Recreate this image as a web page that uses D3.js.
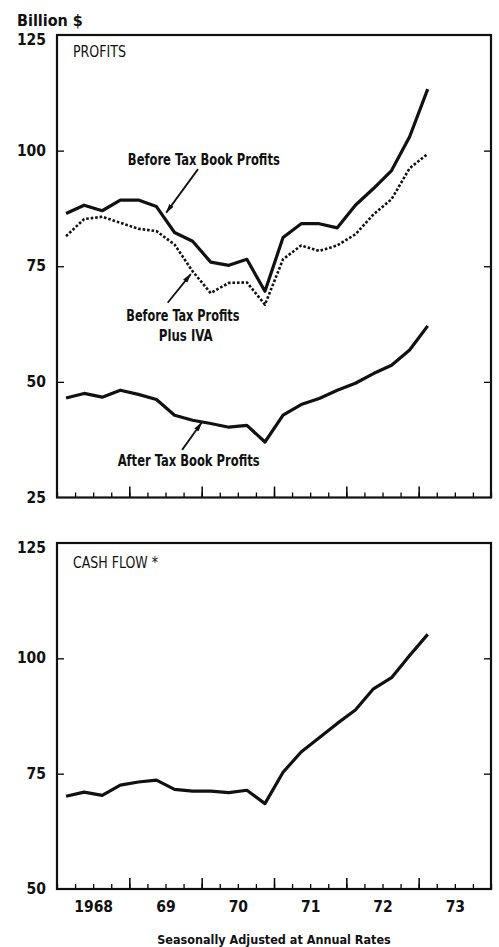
<!DOCTYPE html>
<html>
<head>
<meta charset="utf-8">
<script src="https://d3js.org/d3.v7.min.js"></script>
<style>
  body { margin: 0; background: white; }
  svg { display: block; }
</style>
</head>
<body>
<svg id="chart" width="499" height="947"></svg>
<script>
// quarterly, 1968 Q1 .. 1973 Q1 (billion $, seasonally adjusted annual rates)
var quarters = ["1968Q1","1968Q2","1968Q3","1968Q4","1969Q1","1969Q2","1969Q3","1969Q4",
                "1970Q1","1970Q2","1970Q3","1970Q4","1971Q1","1971Q2","1971Q3","1971Q4",
                "1972Q1","1972Q2","1972Q3","1972Q4","1973Q1"];
var beforeTaxBook = [86.4, 88.2, 87.0, 89.3, 89.3, 87.9, 82.3, 80.4, 75.9, 75.2, 76.5, 69.6,
                     81.2, 84.2, 84.2, 83.3, 88.2, 91.8, 95.7, 103.0, 113.3];
var beforeTaxIVA = [81.5, 85.2, 85.7, 84.4, 83.1, 82.6, 79.7, 73.9, 69.2, 71.4, 71.5, 66.7,
                    76.5, 79.5, 78.3, 79.5, 81.9, 86.2, 89.5, 96.2, 99.3];
var afterTaxBook = [46.5, 47.5, 46.7, 48.2, 47.3, 46.2, 42.8, 41.7, 41.0, 40.2, 40.6, 37.0,
                    42.8, 45.1, 46.4, 48.2, 49.7, 51.8, 53.6, 56.9, 62.1];
var cashFlow = [70.1, 71.0, 70.3, 72.5, 73.2, 73.6, 71.6, 71.2, 71.2, 70.9, 71.4, 68.5,
                75.3, 79.7, 82.8, 85.9, 88.8, 93.4, 95.8, 100.6, 105.2];

var yearLabels = ["1968", "69", "70", "71", "72", "73"];
var profitTicks = [25, 50, 75, 100, 125];
var cashTicks = [50, 75, 100, 125];

var svg = d3.select("#chart");
var numFont = "'DejaVu Sans Condensed', 'DejaVu Sans', sans-serif";
var narrowFont = "'Liberation Sans Narrow', 'DejaVu Sans Condensed', 'DejaVu Sans', sans-serif";

var x = d3.scaleLinear().domain([1968, 1974]).range([57, 491]);
function qx(q) { return +q.slice(0, 4) + (+q.slice(5) - 0.5) / 4; }

var yTop = d3.scaleLinear().domain([25, 125]).range([497.5, 35]);
var yBot = d3.scaleLinear().domain([50, 125]).range([889, 543]);

var quarterEdges = d3.range(1968, 1974.01, 0.25);
var yearEdges = d3.range(1969, 1974, 1);

function panel(y, ticks, showYears) {
  var g = svg.append("g");
  var x0 = x.range()[0], x1 = x.range()[1];
  var ya = y.range()[1], yb = y.range()[0];

  // minor (quarter) and major (year) ticks pointing up from the bottom
  g.append("g").attr("transform", "translate(0," + yb + ")")
    .call(d3.axisBottom(x).tickValues(quarterEdges).tickSize(-5).tickFormat(""))
    .call(function(a){ a.select(".domain").remove(); a.selectAll("line").attr("stroke-width", 1.3); });
  g.append("g").attr("transform", "translate(0," + yb + ")")
    .call(d3.axisBottom(x).tickValues(yearEdges).tickSize(-11).tickFormat(""))
    .call(function(a){ a.select(".domain").remove(); a.selectAll("line").attr("stroke-width", 1.5); });

  // left axis with labels, right axis ticks only
  g.append("g").attr("transform", "translate(" + x0 + ",0)")
    .call(d3.axisLeft(y).tickValues(ticks).tickSize(-7).tickPadding(11).tickFormat(d3.format("d")))
    .call(function(a){
      a.select(".domain").remove();
      a.selectAll("line").attr("stroke-width", 1.3)
        .filter(function(d){ return d == y.domain()[0] || d == y.domain()[1]; }).remove();
      a.selectAll("text").style("font-family", numFont).style("font-size", "15.5px")
        .style("font-weight", "bold").attr("fill", "#111")
        .attr("dy", function(d){ return d == y.domain()[1] ? "0.62em" : "0.3em"; });
    });
  g.append("g").attr("transform", "translate(" + x1 + ",0)")
    .call(d3.axisRight(y).tickValues(ticks.slice(1, -1)).tickSize(-7).tickFormat(""))
    .call(function(a){ a.select(".domain").remove(); a.selectAll("line").attr("stroke-width", 1.3); });

  g.append("rect")
    .attr("x", x0).attr("y", ya)
    .attr("width", x1 - x0).attr("height", yb - ya)
    .style("fill", "none").style("stroke", "#111").style("stroke-width", 2.2);

  if (showYears) {
    g.append("g").attr("transform", "translate(0," + yb + ")")
      .call(d3.axisBottom(x).tickValues(d3.range(1968.5, 1974, 1)).tickSize(0).tickPadding(12)
        .tickFormat(function(d, i){ return yearLabels[i]; }))
      .call(function(a){
        a.select(".domain").remove();
        a.selectAll("text").style("font-family", numFont).style("font-size", "15.5px")
          .style("font-weight", "bold").attr("fill", "#111");
      });
  }
  return g;
}

function drawLine(g, y, values, width, dash) {
  var line = d3.line()
    .x(function(d, i){ return x(qx(quarters[i])); })
    .y(function(d){ return y(d); });
  g.append("path").datum(values)
    .attr("d", line)
    .style("fill", "none").style("stroke", "#111")
    .style("stroke-width", width)
    .style("stroke-linejoin", "round")
    .style("stroke-dasharray", dash || null);
}

svg.append("defs").append("marker")
  .attr("id", "head").attr("viewBox", "0 0 10 6")
  .attr("refX", 9).attr("refY", 3)
  .attr("markerWidth", 10).attr("markerHeight", 6)
  .attr("markerUnits", "userSpaceOnUse")
  .attr("orient", "auto")
  .append("path").attr("d", "M0,0.4 L10,3 L0,5.6 Z").style("fill", "#111");

function label(g, y, txt, xv, yv, len, weight) {
  g.append("text")
    .attr("x", x(xv)).attr("y", y(yv))
    .attr("text-anchor", "middle")
    .attr("textLength", len).attr("lengthAdjust", "spacingAndGlyphs")
    .style("font-family", narrowFont).style("font-size", "15px")
    .style("font-weight", weight || "bold").style("fill", "#111")
    .text(txt);
}
function arrow(g, y, fx, fy, tx, ty) {
  g.append("line")
    .attr("x1", x(fx)).attr("y1", y(fy)).attr("x2", x(tx)).attr("y2", y(ty))
    .style("stroke", "#111").style("stroke-width", 1.8)
    .attr("marker-end", "url(#head)");
}

// ---- PROFITS ----
var profitsG = panel(yTop, profitTicks, false);
drawLine(profitsG, yTop, beforeTaxIVA, 2.6, "2.6,1.9");
drawLine(profitsG, yTop, beforeTaxBook, 3.2);
drawLine(profitsG, yTop, afterTaxBook, 3.2);

profitsG.append("text").attr("x", 73).attr("y", 57)
  .attr("textLength", 53).attr("lengthAdjust", "spacingAndGlyphs")
  .style("font-family", narrowFont).style("font-size", "15px").style("fill", "#111")
  .text("PROFITS");

label(profitsG, yTop, "Before Tax Book Profits", 1970.03, 96.9, 152);
arrow(profitsG, yTop, 1969.95, 96.0, 1969.51, 86.6);
label(profitsG, yTop, "Before Tax Profits", 1969.74, 63.2, 113);
label(profitsG, yTop, "Plus IVA", 1969.78, 58.8, 54);
arrow(profitsG, yTop, 1969.53, 67.1, 1969.85, 73.3);
label(profitsG, yTop, "After Tax Book Profits", 1969.82, 31.8, 142);
arrow(profitsG, yTop, 1969.73, 35.3, 1970.0, 41.2);

// ---- CASH FLOW ----
var cashG = panel(yBot, cashTicks, true);
drawLine(cashG, yBot, cashFlow, 3.2);

cashG.append("text").attr("x", 73).attr("y", 568)
  .attr("textLength", 85).attr("lengthAdjust", "spacingAndGlyphs")
  .style("font-family", narrowFont).style("font-size", "15px").style("fill", "#111")
  .text("CASH FLOW *");

svg.append("text").attr("x", 17).attr("y", 26)
  .style("font-family", numFont).style("font-size", "16px").style("font-weight", "bold")
  .style("fill", "#111").text("Billion $");

svg.append("text").attr("x", x(1971)).attr("y", 944)
  .attr("text-anchor", "middle")
  .style("font-family", numFont).style("font-size", "12.5px").style("font-weight", "bold")
  .style("fill", "#111").text("Seasonally Adjusted at Annual Rates");
</script>
</body>
</html>
